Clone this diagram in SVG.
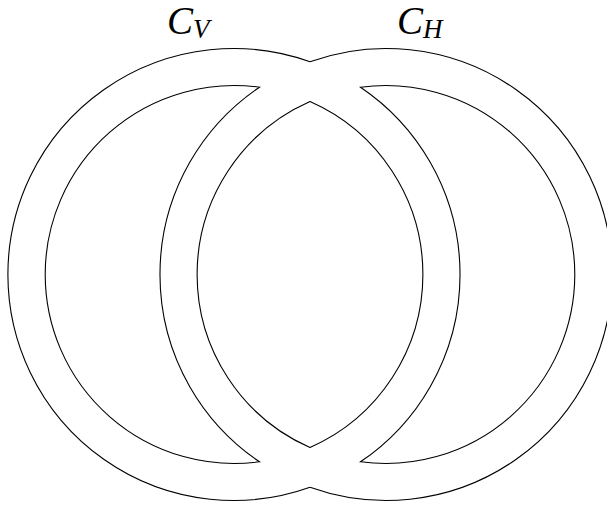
<svg xmlns="http://www.w3.org/2000/svg" width="607" height="505" viewBox="0 0 607 505">
<style>
.ln{fill:none;stroke:#000;stroke-width:1.1;stroke-linejoin:miter}
.lbl{font-family:"Liberation Serif","DejaVu Serif",serif;font-style:italic;fill:#000}
</style>
<rect width="607" height="505" fill="#fff"/>
<g id="connectors">
</g>
<g id="outer">
<path class="ln" d="M310,61.7 A226,226 0 1 0 310,487.3"/>
<path class="ln" d="M310,61.7 A226,226 0 1 1 310,487.3"/>
</g>
<g id="crescent-left">
<path class="ln" d="M259.5,87.2 A189,189 0 1 0 259.5,461.8 A226,226 0 0 1 259.5,87.2 Z"/>
</g>
<g id="crescent-right">
<path class="ln" d="M360.5,87.2 A189,189 0 1 1 360.5,461.8 A226,226 0 0 0 360.5,87.2 Z"/>
</g>
<g id="lens">
<path class="ln" d="M310,101.5 A189,189 0 0 1 310,447.5 A189,189 0 0 1 310,101.5 Z"/>
</g>
<g id="label-CV">
<text class="lbl" x="167" y="34" font-size="39">C<tspan font-size="27" dy="4">V</tspan></text>
</g>
<g id="label-CH">
<text class="lbl" x="397" y="34" font-size="39">C<tspan font-size="27" dy="4">H</tspan></text>
</g>
</svg>
